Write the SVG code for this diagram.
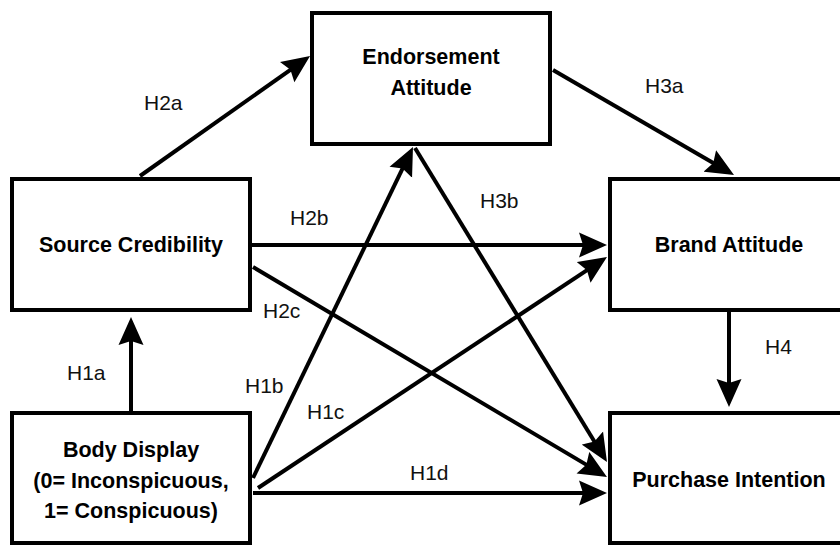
<svg xmlns="http://www.w3.org/2000/svg" width="840" height="545" viewBox="0 0 840 545">
<style>
.box{fill:#fff;stroke:#000;stroke-width:4}
.t{font-family:"Liberation Sans",Arial,sans-serif;font-size:21.5px;font-weight:bold;fill:#000;text-anchor:middle}
.l{font-family:"Liberation Sans",Arial,sans-serif;font-size:21px;fill:#111}
.c{stroke:#000;stroke-width:4;fill:none;marker-end:url(#ah)}
</style>
<defs>
<marker id="ah" markerUnits="userSpaceOnUse" markerWidth="28" markerHeight="26" refX="20" refY="12.5" orient="auto" viewBox="0 0 28 25">
<path d="M0,0 L28,12.5 L0,25 L4,12.5 z" fill="#000"/>
</marker>
</defs>
<rect width="840" height="545" fill="#fff"/>
<g id="connectors">
<line class="c" x1="131" y1="413" x2="131" y2="325"/>
<line class="c" x1="140" y1="176" x2="303.5" y2="60.6"/>
<line class="c" x1="553" y1="70" x2="727.1" y2="171"/>
<line class="c" x1="250" y1="245" x2="599" y2="245"/>
<line class="c" x1="253" y1="478" x2="409.5" y2="154.2"/>
<line class="c" x1="415" y1="148" x2="602.8" y2="455.2"/>
<line class="c" x1="253" y1="267" x2="600.1" y2="472.9"/>
<line class="c" x1="258" y1="488" x2="600.3" y2="261.4"/>
<line class="c" x1="253" y1="493" x2="599" y2="493"/>
<line class="c" x1="729" y1="310" x2="729" y2="399"/>
<text class="l" x="144" y="110">H2a</text>
<text class="l" x="645" y="93">H3a</text>
<text class="l" x="290" y="225">H2b</text>
<text class="l" x="480" y="208">H3b</text>
<text class="l" x="263" y="318">H2c</text>
<text class="l" x="765" y="354">H4</text>
<text class="l" x="67" y="380">H1a</text>
<text class="l" x="245" y="393">H1b</text>
<text class="l" x="307" y="419">H1c</text>
<text class="l" x="410" y="480">H1d</text>
</g>
<g id="endorsement">
<rect class="box" x="312" y="13" width="238" height="131"/>
<text class="t" x="431" y="64">Endorsement</text>
<text class="t" x="431" y="95">Attitude</text>
</g>
<g id="source">
<rect class="box" x="12" y="179" width="238" height="131"/>
<text class="t" x="131" y="252">Source Credibility</text>
</g>
<g id="brand">
<rect class="box" x="610" y="179" width="238" height="131"/>
<text class="t" x="729" y="252">Brand Attitude</text>
</g>
<g id="body">
<rect class="box" x="12" y="413" width="238" height="130"/>
<text class="t" x="131" y="457">Body Display</text>
<text class="t" x="131" y="488">(0= Inconspicuous,</text>
<text class="t" x="131" y="518">1= Conspicuous)</text>
</g>
<g id="purchase">
<rect class="box" x="610" y="413" width="238" height="130"/>
<text class="t" x="729" y="487">Purchase Intention</text>
</g>
</svg>
